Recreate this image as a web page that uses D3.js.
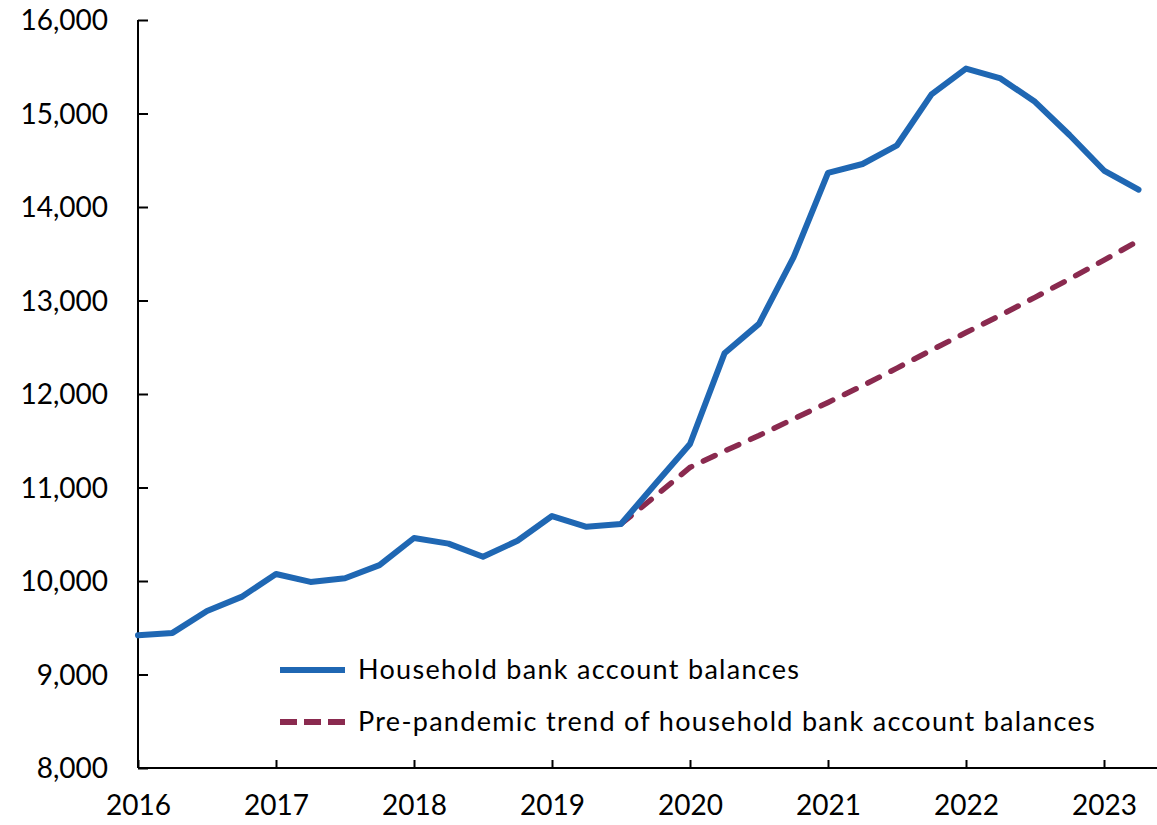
<!DOCTYPE html>
<html>
<head>
<meta charset="utf-8">
<script src="https://cdn.jsdelivr.net/npm/d3@7"></script>
<style>
  html, body { margin: 0; padding: 0; background: #fff; }
  svg text { font-family: Lato, "Open Sans", sans-serif; fill: #000; }
</style>
</head>
<body>
<svg id="chart" width="1157" height="825"></svg>
<script>
// Quarterly periods, 2016 Q1 – 2023 Q2 (decimal years)
const periods = [
  2016.00, 2016.25, 2016.50, 2016.75,
  2017.00, 2017.25, 2017.50, 2017.75,
  2018.00, 2018.25, 2018.50, 2018.75,
  2019.00, 2019.25, 2019.50, 2019.75,
  2020.00, 2020.25, 2020.50, 2020.75,
  2021.00, 2021.25, 2021.50, 2021.75,
  2022.00, 2022.25, 2022.50, 2022.75,
  2023.00, 2023.25
];
// Household bank account balances
const balances = [
  9420, 9445, 9680, 9830,
  10075, 9990, 10030, 10170,
  10460, 10400, 10260, 10430,
  10695, 10580, 10610, 11040,
  11465, 12435, 12750, 13460,
  14365, 14460, 14660, 15205,
  15480, 15375, 15125, 14770,
  14390, 14185
];
// Pre-pandemic trend (starts 2019 Q3)
const trend = [
  null, null, null, null,
  null, null, null, null,
  null, null, null, null,
  null, null, 10610, 10910,
  11215, 11390, 11556, 11733,
  11910, 12088, 12277, 12470,
  12657, 12842, 13034, 13230,
  13431, 13639
];
const yTicks = [8000, 9000, 10000, 11000, 12000, 13000, 14000, 15000, 16000];
const xTicks = [2016, 2017, 2018, 2019, 2020, 2021, 2022, 2023];
const seriesNames = ["Household bank account balances", "Pre-pandemic trend of household bank account balances"];
const colors = ["#1f67b3", "#8a2a4f"];

const svg = d3.select("#chart");
const x = d3.scaleLinear().domain([2016, 2023]).range([138, 1104]);
const y = d3.scaleLinear().domain([8000, 16000]).range([768, 20]);

// Y axis
const yAxis = svg.append("g").attr("transform", "translate(138,0)")
  .call(d3.axisRight(y).tickValues(yTicks).tickSize(10).tickFormat(d3.format(",")));
yAxis.select(".domain").attr("stroke", "#000").attr("stroke-width", 2).attr("d", "M0,20V768");
yAxis.selectAll(".tick line").attr("stroke", "#000").attr("stroke-width", 2);
yAxis.selectAll(".tick text")
  .attr("x", -30).attr("text-anchor", "end").attr("dy", "0.35em")
  .style("font-size", "28px");

// X axis
const xAxis = svg.append("g").attr("transform", "translate(0,768)")
  .call(d3.axisTop(x).tickValues(xTicks).tickSize(8).tickFormat(d3.format("d")));
xAxis.select(".domain").attr("stroke", "#000").attr("stroke-width", 2).attr("d", "M138,0H1157");
xAxis.selectAll(".tick line").attr("stroke", "#000").attr("stroke-width", 2);
xAxis.selectAll(".tick text")
  .attr("y", 37).attr("dy", "0.35em")
  .style("font-size", "28px");

// Lines
const line = d3.line()
  .defined(d => d[1] != null)
  .x(d => x(d[0])).y(d => y(d[1]));

svg.append("path")
  .datum(periods.map((p, i) => [p, trend[i]]))
  .attr("fill", "none").attr("stroke", colors[1]).attr("stroke-width", 5.5)
  .attr("stroke-dasharray", "13,13").attr("stroke-linecap", "round")
  .attr("d", line);

svg.append("path")
  .datum(periods.map((p, i) => [p, balances[i]]))
  .attr("fill", "none").attr("stroke", colors[0]).attr("stroke-width", 6)
  .attr("stroke-linejoin", "round").attr("stroke-linecap", "round")
  .attr("d", line);

// Legend
const legend = svg.append("g");
const legY = [670, 722];
legend.append("line").attr("x1", 280).attr("x2", 345).attr("y1", legY[0]).attr("y2", legY[0])
  .attr("stroke", colors[0]).attr("stroke-width", 6);
legend.append("line").attr("x1", 280).attr("x2", 345).attr("y1", legY[1]).attr("y2", legY[1])
  .attr("stroke", colors[1]).attr("stroke-width", 6).attr("stroke-dasharray", "17,7");
seriesNames.forEach((n, i) => {
  legend.append("text").attr("x", 358).attr("y", legY[i]).attr("dy", "0.35em")
    .style("font-size", "27px").style("letter-spacing", "1.3px").text(n);
});
</script>
</body>
</html>
